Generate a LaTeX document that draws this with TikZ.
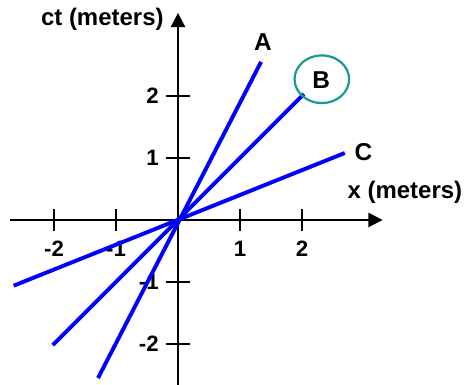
\documentclass[tikz,border=0pt]{standalone}
\usepackage{fontspec}
\setmainfont{Liberation Sans}
\usepackage{xcolor}
\usetikzlibrary{arrows.meta,positioning,shapes.geometric}
\definecolor{ink}{HTML}{000000}
\definecolor{worldline}{HTML}{0000FF}
\definecolor{ringteal}{HTML}{139A92}
\tikzset{
  axisline/.style={draw=ink,line width=0.9pt,-{Triangle[length=2.3mm,width=2.3mm]}},
  tickmark/.style={draw=ink,line width=0.9pt},
  ticklabel/.style={font=\fontsize{10.2}{12}\selectfont\bfseries,inner sep=1pt},
  axislabel/.style={font=\fontsize{11}{13}\selectfont\bfseries,inner sep=1pt},
  linelabel/.style={font=\fontsize{11.2}{13}\selectfont\bfseries,inner sep=1pt},
  worldarr/.style={draw=worldline,line width=1.8pt},
  highlight/.style={draw=ringteal,line width=1pt,ellipse,
                    minimum width=0.88cm,minimum height=0.77cm,inner sep=0pt}
}

\begin{document}
\begin{tikzpicture}
      \useasboundingbox (-2.871,-2.661) rectangle (4.629,3.548);
      % axes
      \coordinate (xstart) at (-2.71,0);
      \coordinate (xend) at (3.30,0);
      \coordinate (ystart) at (0,-2.70);
      \coordinate (yend) at (0,3.34);
      \draw[axisline] (xstart) -- (xend);
      \draw[axisline] (ystart) -- (yend);
      \node[axislabel,anchor=east] (ctlabel) at (-0.19,3.23) {ct (meters)};
      \node[axislabel] (xlabel) at (3.66,0.44) {x (meters)};

      % ticks
      \foreach \t/\lab in {-2/-2,-1/-1,1/1,2/2} {
        \draw[tickmark] (\t,-0.18) -- (\t,0.18);
        \node[ticklabel] (xt\t) at (\t,-0.46) {\lab};
        \draw[tickmark] (-0.19,\t) -- (0.19,\t);
        \node[ticklabel,anchor=east] (yt\t) at (-0.27,\t) {\lab};
      }

      % world lines
      \coordinate (o) at (0,0);
      \coordinate (a1) at (-1.29,-2.55);
      \coordinate (a2) at (1.34,2.55);
      \coordinate (b1) at (-2.02,-2.02);
      \coordinate (b2) at (2.03,2.03);
      \coordinate (c1) at (-2.65,-1.06);
      \coordinate (c2) at (2.69,1.08);
      \draw[worldarr] (a1) -- (a2);
      \draw[worldarr] (b1) -- (b2);
      \draw[worldarr] (c1) -- (c2);

      \node[linelabel] (la) at (1.37,2.87) {A};
      \node[linelabel] (lb) at (2.31,2.26) {B};
      \node[highlight] (ring) at (2.32,2.27) {};
      \node[linelabel] (lc) at (2.99,1.10) {C};
    \end{tikzpicture}
\end{document}
